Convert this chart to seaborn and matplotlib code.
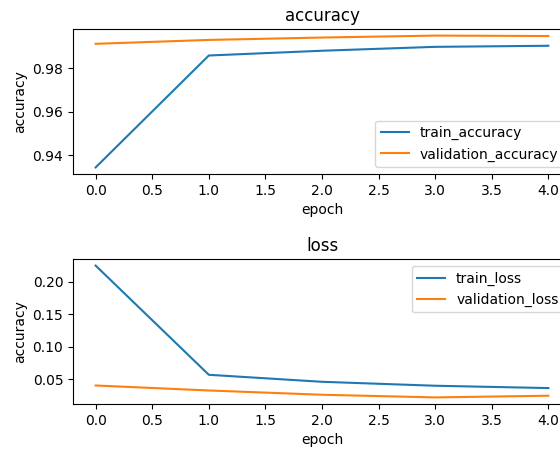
import matplotlib
matplotlib.use("Agg")
import matplotlib.pyplot as plt
import seaborn as sns
import pandas as pd

epochs = [0, 1, 2, 3, 4]
train_accuracy = [0.9343, 0.9860, 0.9882, 0.9900, 0.9905]
validation_accuracy = [0.9914, 0.9932, 0.9943, 0.9952, 0.9950]
train_loss = [0.2251, 0.0566, 0.0458, 0.0397, 0.0361]
validation_loss = [0.0401, 0.0324, 0.0258, 0.0217, 0.0243]

acc_df = pd.DataFrame({"epoch": epochs * 2,
                       "value": train_accuracy + validation_accuracy,
                       "series": ["train_accuracy"] * 5 + ["validation_accuracy"] * 5})
loss_df = pd.DataFrame({"epoch": epochs * 2,
                        "value": train_loss + validation_loss,
                        "series": ["train_loss"] * 5 + ["validation_loss"] * 5})

fig, (ax1, ax2) = plt.subplots(2, 1, figsize=(5.6, 4.5), dpi=100)
fig.subplots_adjust(left=73/560, right=571/560, top=1-29/450, bottom=1-404/450, hspace=85/145)

palette = ["#1f77b4", "#ff7f0e"]
sns.lineplot(data=acc_df, x="epoch", y="value", hue="series", palette=palette, ax=ax1)
ax1.set_title("accuracy")
ax1.set_xlabel("epoch")
ax1.set_ylabel("accuracy")
ax1.legend(loc="lower right")

sns.lineplot(data=loss_df, x="epoch", y="value", hue="series", palette=palette, ax=ax2)
ax2.set_title("loss")
ax2.set_xlabel("epoch")
ax2.set_ylabel("accuracy")
ax2.legend(loc="upper right")

fig.savefig("out.png", dpi=100)
